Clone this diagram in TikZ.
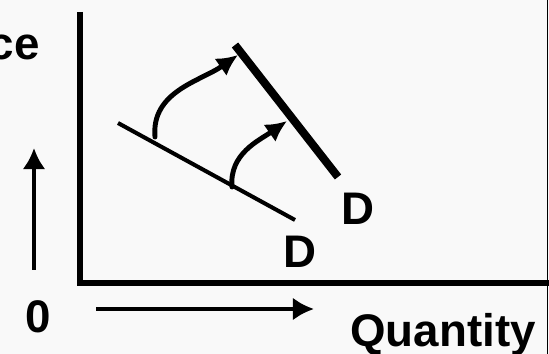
\documentclass[tikz,border=0pt]{standalone}
\usepackage{fontspec}
\setmainfont{Liberation Sans}
\usetikzlibrary{arrows.meta,positioning}
\definecolor{SlideGray}{RGB}{249, 249, 249}

\begin{document}
\begin{tikzpicture}[
    axis/.style={line width=3pt, line join=miter},
    guide/.style={line width=2.8pt, -{Latex[length=12pt, width=13pt]}},
    shiftarrow/.style={line width=2.8pt, line cap=round, -{Latex[length=12pt, width=12pt]}},
    lbl/.style={font=\fontsize{26}{30}\selectfont\bfseries, inner sep=0pt, anchor=base}
]

% Slide background
\fill[SlideGray] (0, 0) rectangle (10.98, 7.08);
\useasboundingbox (0, 0) rectangle (10.98, 7.08);
\clip (0, 0) rectangle (10.98, 7.08);
\draw[line width=0.6pt] (10.95, 0) -- (10.95, 7.08);

% Axes
\coordinate (top) at (1.6, 6.84);
\coordinate (origin) at (1.6, 1.42);
\coordinate (right) at (11.2, 1.42);
\draw[axis] (top) -- (origin) -- (right);

% Labels
\node[lbl, anchor=base east] (price) at (0.8, 5.88) {Price};
\node[lbl] (zero) at (0.76, 0.42) {0};
\node[lbl] (qty) at (8.86, 0.14) {Quantity};

% Direction arrows
\coordinate (upstart) at (0.68, 1.68);
\coordinate (upend) at (0.68, 4.12);
\draw[guide] (upstart) -- (upend);
\coordinate (rstart) at (1.92, 0.9);
\coordinate (rend) at (6.28, 0.9);
\draw[guide] (rstart) -- (rend);

% Demand curves
\coordinate (d1a) at (2.36, 4.62);
\coordinate (d1b) at (5.9, 2.68);
\draw[line width=2.3pt] (d1a) -- (d1b);
\node[lbl] (d1) at (6.0, 1.72) {D};

\coordinate (d2a) at (4.7, 6.18);
\coordinate (d2b) at (6.76, 3.54);
\draw[line width=4.6pt] (d2a) -- (d2b);
\node[lbl] (d2) at (7.15, 2.58) {D};

% Shifts
\coordinate (s1a) at (3.1, 4.34);
\coordinate (s1b) at (4.76, 5.98);
\draw[shiftarrow] (s1a) to[out=95, in=215] (s1b);
\coordinate (s2a) at (4.64, 3.34);
\coordinate (s2b) at (5.74, 4.66);
\draw[shiftarrow] (s2a) to[out=95, in=215] (s2b);

\end{tikzpicture}
\end{document}
